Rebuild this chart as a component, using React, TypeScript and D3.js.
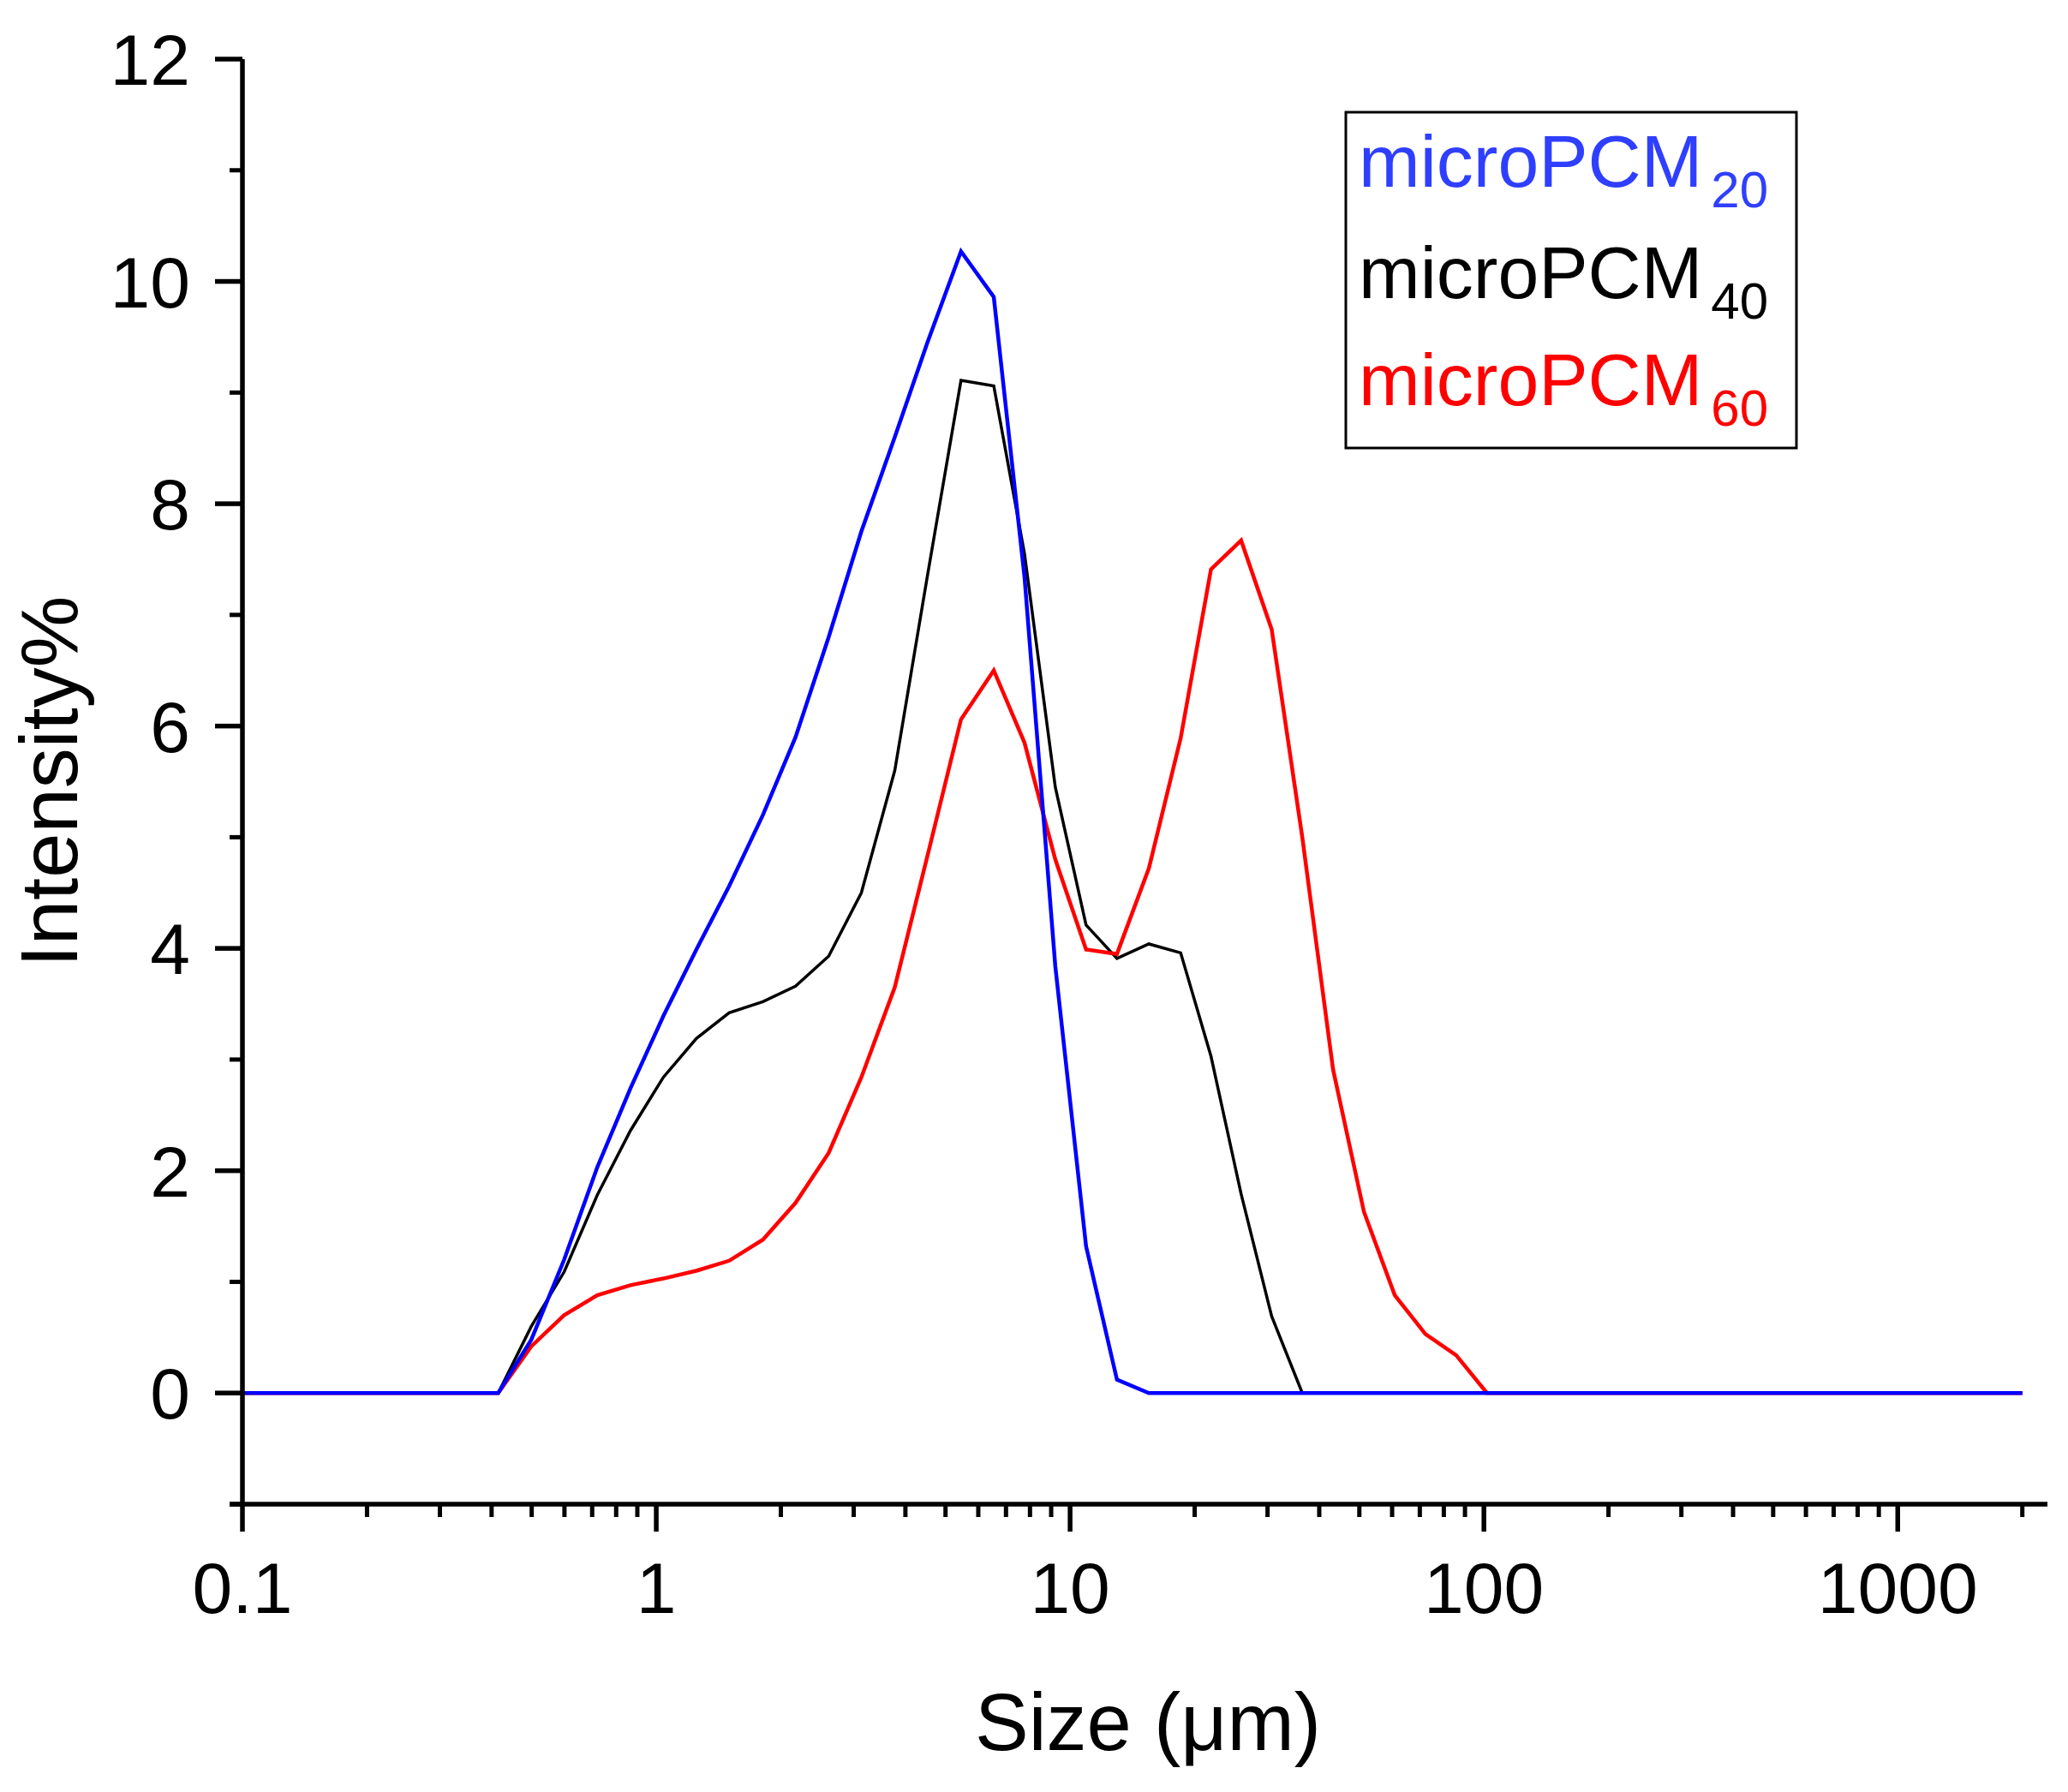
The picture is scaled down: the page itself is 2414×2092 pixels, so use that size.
import * as d3 from 'd3';

// particle size bins (µm)
const sizes = [
  0.1, 0.415, 0.499, 0.599, 0.72, 0.866, 1.04, 1.25, 1.5, 1.81, 2.17, 2.61, 3.13, 3.77, 4.52, 5.45,
  6.54, 7.76, 9.21, 10.93, 12.98, 15.5, 18.5, 21.9, 25.9, 30.7, 36.4, 43.2, 51.3, 60.9, 72.2, 85.7,
  101.7, 2000,
];

// intensity % per bin
const micro20 = [
  0, 0, 0.48, 1.2, 2.03, 2.74, 3.39, 3.99, 4.56, 5.2, 5.9, 6.8, 7.75, 8.6, 9.45, 10.27,
  9.86, 7.34, 3.84, 1.32, 0.12, 0, 0, 0, 0, 0, 0, 0, 0, 0, 0, 0,
  0, 0,
];
const micro40 = [
  0, 0, 0.6, 1.09, 1.78, 2.36, 2.84, 3.19, 3.42, 3.52, 3.66, 3.93, 4.5, 5.6, 7.35, 9.11,
  9.06, 7.55, 5.45, 4.21, 3.91, 4.04, 3.96, 3.03, 1.79, 0.69, 0, 0, 0, 0, 0, 0,
  0, 0,
];
const micro60 = [
  0, 0, 0.42, 0.7, 0.88, 0.97, 1.03, 1.1, 1.19, 1.38, 1.71, 2.16, 2.84, 3.65, 4.83, 6.06,
  6.5, 5.85, 4.8, 3.99, 3.95, 4.72, 5.89, 7.41, 7.67, 6.87, 5.0, 2.91, 1.63, 0.88, 0.53, 0.34,
  0, 0,
];

const xMajorTicks = [0.1, 1, 10, 100, 1000];
const xTickLabels = ['0.1', '1', '10', '100', '1000'];
const yMajorTicks = [0, 2, 4, 6, 8, 10, 12];
const yMinorTicks = [-1, 1, 3, 5, 7, 9, 11];

const legendNames = ['microPCM', 'microPCM', 'microPCM'];
const legendSubs = ['20', '40', '60'];

const FONT = '"Liberation Sans", Arial, sans-serif';

export default function App() {
  const width = 2414;
  const height = 2092;
  const left = 283;
  const right = 2390;
  const top = 69;
  const bottom = 1756;

  const x = d3.scaleLog().domain([0.1, 2300]).range([left, right]);
  const y = d3.scaleLinear().domain([-1, 12]).range([bottom, top]);

  const line = d3
    .line<number>()
    .x((_, i) => x(sizes[i]))
    .y((d) => y(d));

  // minor ticks on the log axis (2..9 of each decade)
  const xMinorTicks: number[] = [];
  xMajorTicks.forEach((d) => {
    for (let m = 2; m <= 9; m++) {
      if (d * m <= 2000) xMinorTicks.push(d * m);
    }
  });

  const series = [
    { values: micro40, color: '#000000', w: 3.5 },
    { values: micro60, color: '#ff0000', w: 4.5 },
    { values: micro20, color: '#0000ff', w: 4.5 },
  ];

  const legendColors = ['#2f3fff', '#000000', '#ff0000'];
  const legendBaselines = [218, 348, 473];

  return (
    <svg
      width={width}
      height={height}
      style={{ position: 'absolute', left: 0, top: 0, background: '#fff' }}
      fontFamily={FONT}
    >
      <rect x={0} y={0} width={width} height={height} fill="#fff" />

      {/* curves */}
      {series.map((s, i) => (
        <path
          key={i}
          d={line(s.values) || ''}
          fill="none"
          stroke={s.color}
          strokeWidth={s.w}
          strokeLinejoin="miter"
        />
      ))}

      {/* y axis */}
      <line x1={left} x2={left} y1={top} y2={bottom} stroke="#000" strokeWidth={5.5} />
      {yMajorTicks.map((t) => (
        <g key={t}>
          <line x1={left - 32} x2={left} y1={y(t)} y2={y(t)} stroke="#000" strokeWidth={5.5} />
          <text
            x={222}
            y={y(t)}
            dy="0.36em"
            textAnchor="end"
            fontSize={84}
            fill="#000"
          >
            {t}
          </text>
        </g>
      ))}
      {yMinorTicks.map((t) => (
        <line key={t} x1={left - 15} x2={left} y1={y(t)} y2={y(t)} stroke="#000" strokeWidth={5} />
      ))}

      {/* x axis */}
      <line x1={left - 15} x2={right} y1={bottom} y2={bottom} stroke="#000" strokeWidth={5.5} />
      {xMajorTicks.map((t, i) => (
        <g key={t}>
          <line x1={x(t)} x2={x(t)} y1={bottom} y2={bottom + 32} stroke="#000" strokeWidth={5.5} />
          <text x={x(t)} y={1883} textAnchor="middle" fontSize={84} fill="#000">
            {xTickLabels[i]}
          </text>
        </g>
      ))}
      {xMinorTicks.map((t) => (
        <line key={t} x1={x(t)} x2={x(t)} y1={bottom} y2={bottom + 15} stroke="#000" strokeWidth={5} />
      ))}

      {/* axis titles */}
      <text x={1340} y={2043} textAnchor="middle" fontSize={94} fill="#000">
        Size (μm)
      </text>
      <text
        transform={`translate(90,${(top + bottom) / 2}) rotate(-90)`}
        textAnchor="middle"
        fontSize={94}
        fill="#000"
      >
        Intensity%
      </text>

      {/* legend */}
      <rect x={1571} y={131} width={526} height={392} fill="#fff" stroke="#000" strokeWidth={3} />
      {legendNames.map((name, i) => (
        <text key={i} x={1586} y={legendBaselines[i]} fontSize={86} fill={legendColors[i]}>
          <tspan>{name}</tspan>
          <tspan dx={10} dy={24} fontSize={60}>
            {legendSubs[i]}
          </tspan>
        </text>
      ))}
    </svg>
  );
}
